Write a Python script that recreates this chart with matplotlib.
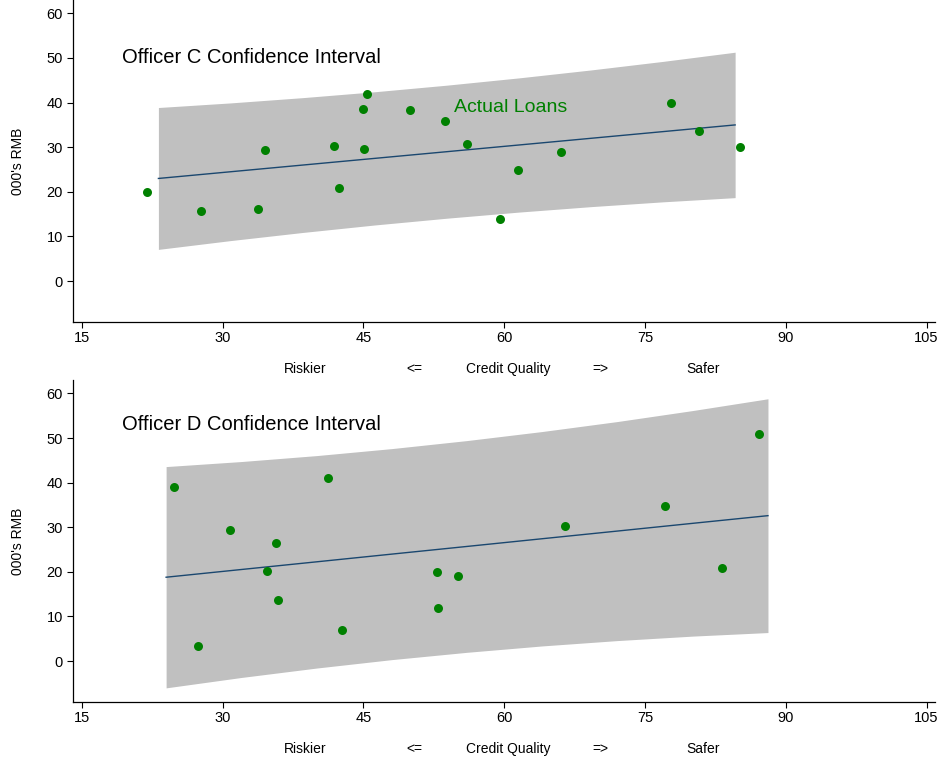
import numpy as np
import matplotlib
matplotlib.use("Agg")
import matplotlib.pyplot as plt

plt.rcParams['font.family'] = ['Liberation Sans', 'DejaVu Sans']

# Officer C: actual loans (credit quality, 000's RMB)
c_x = [21.95, 27.7, 33.8, 34.5, 41.9, 42.4, 44.9, 45.1, 45.4, 50.0, 53.7,
       56.0, 59.5, 61.5, 66.0, 77.8, 80.8, 85.15]
c_y = [20.0, 15.7, 16.2, 29.4, 30.2, 20.9, 38.6, 29.7, 41.9, 38.3, 35.9,
       30.7, 13.9, 25.0, 28.9, 40.0, 33.6, 30.1]
# Officer C fitted line and confidence band
c_band_x = [23.15, 30.83, 38.51, 46.19, 53.88, 61.56, 69.24, 76.92, 84.6]
c_fit = [23.0, 24.5, 26.0, 27.5, 29.0, 30.5, 32.0, 33.5, 35.0]
c_hi = [38.9, 39.93, 41.11, 42.43, 43.91, 45.54, 47.32, 49.24, 51.3]
c_lo = [7.1, 9.07, 10.89, 12.57, 14.09, 15.46, 16.68, 17.76, 18.7]

# Officer D: actual loans
d_x = [24.78, 27.4, 30.8, 34.73, 35.7, 35.86, 41.2, 42.7, 52.8, 52.9, 55.1,
       66.5, 77.1, 83.2, 87.1]
d_y = [39.1, 3.3, 29.4, 20.1, 26.5, 13.7, 41.0, 7.0, 19.95, 11.8, 19.0,
       30.2, 34.8, 20.8, 51.0]
d_band_x = [23.97, 31.99, 40.0, 48.02, 56.03, 64.05, 72.07, 80.08, 88.1]
d_fit = [18.8, 20.53, 22.25, 23.98, 25.70, 27.43, 29.15, 30.88, 32.6]
d_hi = [43.6, 44.73, 46.06, 47.63, 49.43, 51.46, 53.70, 56.16, 58.8]
d_lo = [-6.0, -3.67, -1.56, 0.33, 1.97, 3.40, 4.60, 5.60, 6.4]

xticks = [15, 30, 45, 60, 75, 90, 105]
yticks = [0, 10, 20, 30, 40, 50, 60]
xlabel_parts = ["Riskier", "<=", "Credit Quality", "=>", "Safer"]
xlabel_pos = [0.2696, 0.3959, 0.5053, 0.6116, 0.7314]

fig = plt.figure(figsize=(9.42, 7.59), dpi=100)
ax1 = fig.add_axes([0.077, 0.5762, 0.9156, 0.4238])
ax2 = fig.add_axes([0.077, 0.0755, 0.9156, 0.4238])


def draw_panel(ax, bx, fit, lo, hi, px, py, title, title_y):
    ax.fill_between(bx, lo, hi, color='#c0c0c0', linewidth=0, zorder=1)
    ax.plot(bx, fit, color='#1a476f', linewidth=1.0, zorder=2)
    ax.scatter(px, py, s=42, color='#008000', linewidths=0, zorder=3)
    ax.set_xlim(14.0, 105.9)
    ax.set_ylim(-9.1, 63)
    ax.set_xticks(xticks)
    ax.set_yticks(yticks)
    for s in ['top', 'right']:
        ax.spines[s].set_visible(False)
    for s in ['left', 'bottom']:
        ax.spines[s].set_linewidth(0.9)
    ax.tick_params(axis='both', length=4, width=0.8, labelsize=10.5, pad=3)
    ax.text(19.3, title_y, title, fontsize=14.5, va='center', ha='left')
    ax.annotate("000's RMB", xy=(0, 0.5), xycoords='axes fraction',
                xytext=(-39, 0), textcoords='offset points',
                rotation=90, ha='center', va='center', fontsize=10)
    for lab, fx in zip(xlabel_parts, xlabel_pos):
        ax.annotate(lab, xy=(fx, 0), xycoords='axes fraction',
                    xytext=(0, -34), textcoords='offset points',
                    ha='center', va='center', fontsize=10)


draw_panel(ax1, c_band_x, c_fit, c_lo, c_hi, c_x, c_y,
           "Officer C Confidence Interval", 50.0)
ax1.text(54.6, 39.0, "Actual Loans", color='#008000', fontsize=14,
         va='center', ha='left')

draw_panel(ax2, d_band_x, d_fit, d_lo, d_hi, d_x, d_y,
           "Officer D Confidence Interval", 53.1)

fig.savefig("out.png", dpi=100)
